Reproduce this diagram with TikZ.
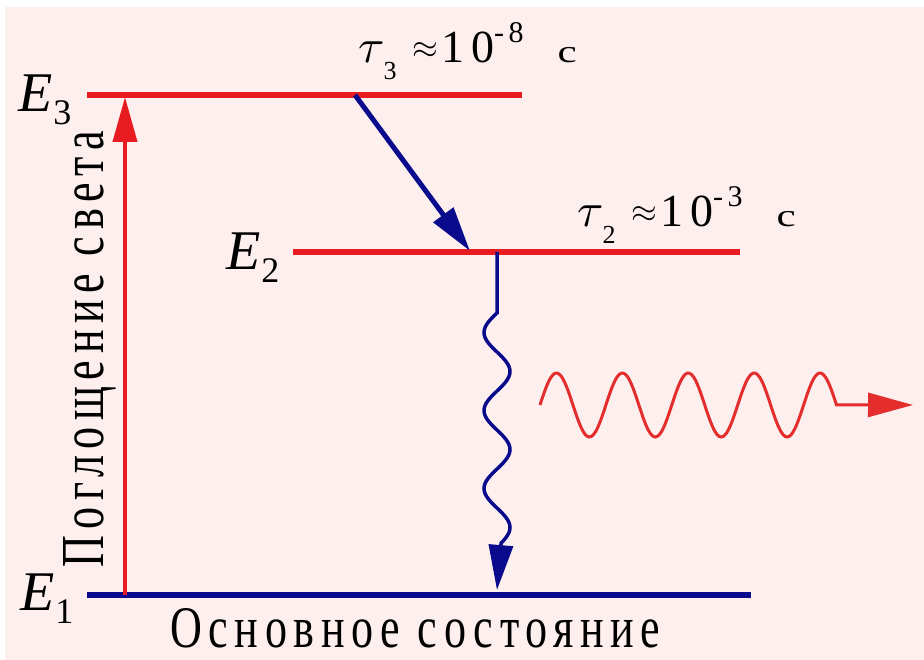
\documentclass[tikz,border=0pt]{standalone}
\usepackage{fontspec}
\usepackage{tikz}
\usetikzlibrary{arrows.meta}
\newfontfamily\labfont[LetterSpace=15]{Liberation Serif}
\definecolor{LevRed}{RGB}{232, 28, 32}
\definecolor{LevBlue}{RGB}{10, 10, 140}
\definecolor{PhotRed}{RGB}{228, 45, 45}
\definecolor{BgPink}{RGB}{253, 239, 238}
\newcommand{\levlab}[1]{{\labfont\itshape\fontsize{56}{56}\selectfont E}\kern1pt\raisebox{-13pt}{\labfont\fontsize{36}{36}\selectfont #1}}
\newcommand{\lifetime}[2]{\scalebox{4.8}{$\tau$}\kern-1pt\raisebox{-17pt}{\labfont\fontsize{26}{26}\selectfont #1}\kern16pt\raisebox{4pt}{\scalebox{3.3}{$\approx$}}\kern3pt{\labfont\fontsize{46}{46}\selectfont 10}\raisebox{20pt}{\labfont\fontsize{30}{30}\selectfont -#2}\kern34pt\scalebox{1.35}[1]{\labfont\fontsize{32}{32}\selectfont с}}

\begin{document}
\begin{tikzpicture}[x=1pt, y=-1pt, >={Triangle[length=45pt, width=24pt]},
    level/.style={line width=6pt},
    txt/.style={inner sep=0pt, anchor=base west}]
          \useasboundingbox (0,0) rectangle (924,660);
          \fill[white] (0,0) rectangle (924,660);
          \fill[BgPink] (5,7) rectangle (924,660);
          \coordinate (e3l) at (87,95);   \coordinate (e3r) at (522,95);
          \coordinate (e2l) at (293,252); \coordinate (e2r) at (740,252);
          \coordinate (e1l) at (87,595);  \coordinate (e1r) at (751,595);
          \draw[level, LevRed] (e3l) -- (e3r);
          \draw[level, LevRed] (e2l) -- (e2r);
          \draw[level, LevBlue] (e1l) -- (e1r);
          \coordinate (pumpbot) at (125,595); \coordinate (pumptop) at (125,97);
          \draw[line width=4pt, LevRed, ->] (pumpbot) -- (pumptop);
          \coordinate (relax) at (355,95); \coordinate (relaxend) at (470,251);
          \draw[line width=5pt, LevBlue, ->] (relax) -- (relaxend);
          \coordinate (lumtop) at (497,252); \coordinate (lumbot) at (497,590);
          \draw[line width=3.5pt, LevBlue, ->] (lumtop) -- (497,313)
            -- plot[domain=313:543, samples=90, smooth] ({497-13*sin((\x-313)/78*360)}, \x) -- (lumbot);
          \coordinate (photend) at (913,405);
          \draw[line width=3pt, PhotRed, ->] plot[domain=540:836.5, samples=140, smooth] (\x, {405-32*sin((\x-540)/65.9*360)}) -- (photend);
          \node[txt] (E3) at (18,112) {\levlab{3}};
          \node[txt] (E2) at (226,270) {\levlab{2}};
          \node[txt] (E1) at (20,610) {\levlab{1}};
          \node[txt] (tau3) at (358,63) {\lifetime{3}{8}};
          \node[txt] (tau2) at (577,227) {\lifetime{2}{3}};
          \node[txt] (ground) at (170,647) {\resizebox{490pt}{39pt}{\labfont\fontsize{34}{34}\selectfont Основное состояние}};
          \node[inner sep=0pt, anchor=base, rotate=90] (absorb) at (103,349) {\resizebox{437pt}{40pt}{\labfont\fontsize{34}{34}\selectfont Поглощение света}};
        \end{tikzpicture}
\end{document}
